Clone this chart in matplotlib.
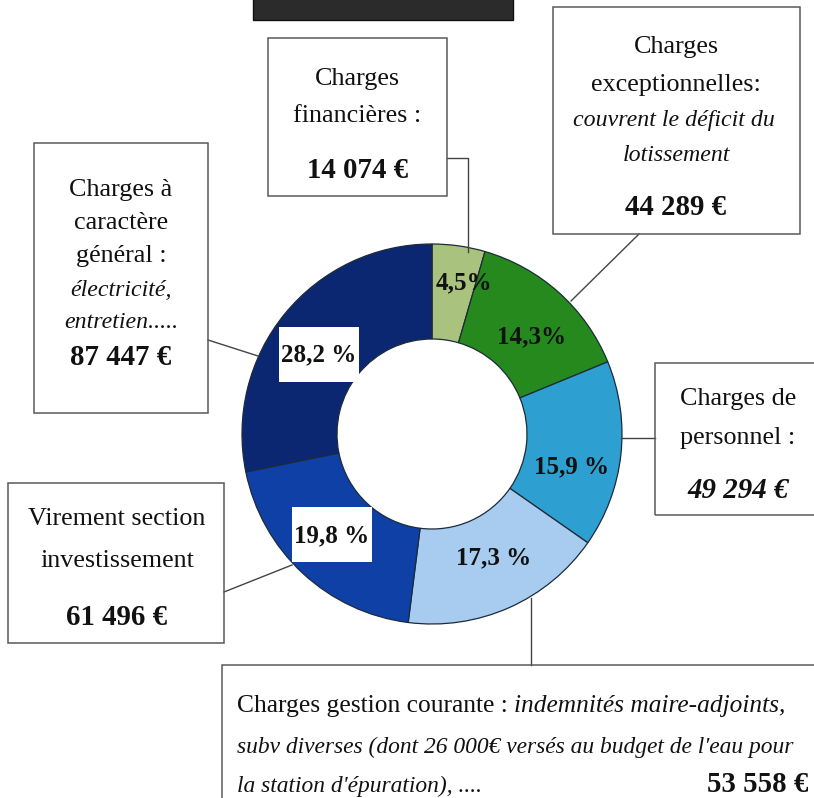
import numpy as np
import matplotlib.pyplot as plt
from matplotlib.patches import Rectangle

W, H = 814, 798

# --- data -------------------------------------------------------------------
shares = [4.5, 14.3, 15.9, 17.3, 19.8, 28.2]
pct_labels = ["4,5%", "14,3%", "15,9 %", "17,3 %", "19,8 %", "28,2 %"]
boxed = [False, False, False, False, True, True]
colors = ["#a9c27e", "#25891d", "#2e9fd1", "#a8ccef", "#0e40a6", "#0c2772"]

amounts = ["14 074 €", "44 289 €", "49 294 €", "53 558 €", "61 496 €", "87 447 €"]

# --- layout helpers (pixel coords, origin top-left) ---------------------------
CX, CY, R, RIN = 432, 434, 190, 95
SERIF = "Liberation Serif"
LBL, ITL, AMT = 18.8, 17.2, 20.8

fig = plt.figure(figsize=(W / 100, H / 100), dpi=100)
ax = fig.add_axes([0, 0, 1, 1])


def fy(y):
    return H - y


def box(x0, y0, x1, y1):
    ax.add_patch(Rectangle((x0, fy(y1)), x1 - x0, y1 - y0, fill=False,
                           ec="#5a5a5a", lw=1.1, zorder=3))


def line(x, y, s, size=LBL, weight="normal", style="normal", ha="center"):
    return ax.text(x, fy(y), s, fontsize=size, fontweight=weight, fontstyle=style,
                   ha=ha, va="baseline", family=SERIF, color="#111111", zorder=4)


def link(xs, ys):
    ax.plot(xs, [fy(v) for v in ys], color="#444444", lw=1.0, zorder=2)


# --- donut -------------------------------------------------------------------
wedges, _ = ax.pie(shares, colors=colors, startangle=90, counterclock=False,
                   center=(CX, fy(CY)), radius=R,
                   wedgeprops=dict(width=R - RIN, edgecolor="#1c2b3a", linewidth=0.9))

# small nudges for the percent labels (pixels: dx, dy)
nudge = [(12, -10), (4, 9), (-2, 17), (4, -6), (-3, -3), (-3, 11)]
for w, lab, bx, (ndx, ndy) in zip(wedges, pct_labels, boxed, nudge):
    mid = np.deg2rad((w.theta1 + w.theta2) / 2)
    rr = (R + RIN) / 2
    px = CX + rr * np.cos(mid) + ndx
    py = CY - rr * np.sin(mid) + ndy
    if bx:
        ax.add_patch(Rectangle((px - 40, fy(py) - 27), 80, 55, fc="white",
                               ec="none", zorder=3))
    ax.text(px, fy(py), lab, fontsize=18, fontweight="bold", family=SERIF,
            ha="center", va="center", color="#111111", zorder=4)

# --- title bar (cut off at the top of the scan) -------------------------------
ax.add_patch(Rectangle((253, fy(20)), 260, 22, fc="#2b2b2b", ec="#111111",
                       lw=1, zorder=3))

# --- Charges financières ------------------------------------------------------
box(268, 38, 447, 196)
line(357, 85, "Charges")
line(357, 122, "financières :")
line(358, 178, amounts[0], size=AMT, weight="bold")
link([447, 468, 468], [158, 158, 252])

# --- Charges exceptionnelles --------------------------------------------------
box(553, 7, 800, 234)
line(676, 53, "Charges")
line(676, 91, "exceptionnelles:")
line(674, 126, "couvrent le déficit du", size=ITL, style="italic")
line(676, 161, "lotissement", size=ITL, style="italic")
line(676, 215, amounts[1], size=AMT, weight="bold")
link([639, 571], [234, 301])

# --- Charges de personnel -----------------------------------------------------
box(655, 363, 822, 515)
line(738, 405, "Charges de")
line(738, 444, "personnel :")
line(738, 498, amounts[2], size=AMT, weight="bold", style="italic")
link([621, 655], [438, 438])

# --- Charges gestion courante -------------------------------------------------
box(222, 665, 822, 810)
line(237, 712, "Charges gestion courante :", size=18.4, ha="left")
line(514, 712, "indemnités maire-adjoints,", size=18.3, style="italic", ha="left")
line(237, 753, "subv diverses (dont 26 000€ versés au budget de l'eau pour",
     size=16.9, style="italic", ha="left")
line(237, 792, "la station d'épuration), ....", size=16.9, style="italic", ha="left")
line(808, 792, amounts[3], size=AMT, weight="bold", ha="right")
link([531, 531], [598, 665])

# --- Virement section investissement ------------------------------------------
box(8, 483, 224, 643)
line(117, 525, "Virement section")
line(117, 567, "investissement")
line(117, 625, amounts[4], size=AMT, weight="bold")
link([224, 292], [592, 565])

# --- Charges à caractère général -----------------------------------------------
box(34, 143, 208, 413)
line(121, 196, "Charges à")
line(121, 229, "caractère")
line(121, 262, "général :")
line(121, 296, "électricité,", size=ITL, style="italic")
line(121, 328, "entretien.....", size=ITL, style="italic")
line(121, 365, amounts[5], size=AMT, weight="bold")
link([208, 258], [340, 356])

ax.set_xlim(0, W)
ax.set_ylim(0, H)
ax.set_aspect("equal")
ax.axis("off")

fig.savefig("out.png", dpi=100, facecolor="white")
